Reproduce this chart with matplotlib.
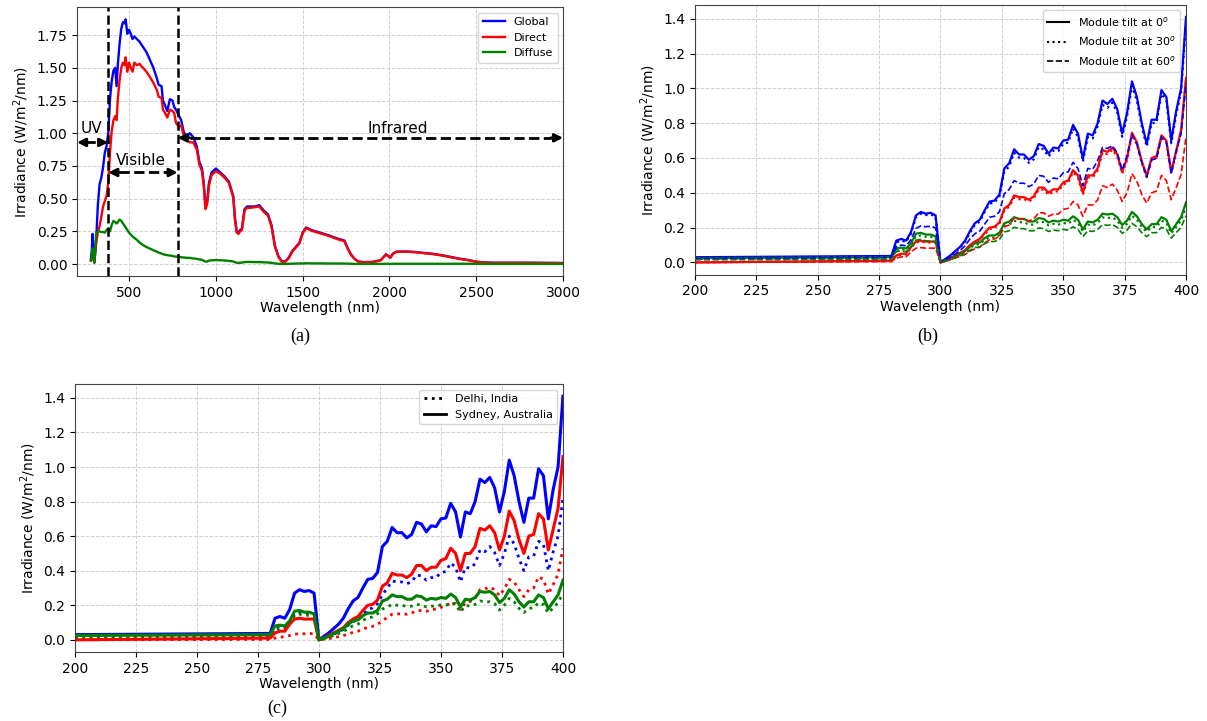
import matplotlib
matplotlib.use("Agg")
import matplotlib.pyplot as plt

# ---- panel (a): full spectrum ----
wl_full = [280, 285, 290, 295, 300, 310, 320, 330, 340, 350,
           360, 370, 380, 390, 400, 410, 420, 428, 435, 445,
           455, 465, 475, 480, 490, 500, 510, 520, 530, 545,
           560, 580, 600, 620, 640, 660, 670, 687, 695, 705,
           720, 735, 750, 760, 770, 785, 800, 815, 830, 850,
           870, 890, 905, 920, 930, 940, 950, 960, 975, 1000,
           1025, 1050, 1075, 1100, 1110, 1120, 1130, 1140, 1150, 1165,
           1180, 1200, 1225, 1250, 1275, 1300, 1320, 1340, 1360, 1380,
           1400, 1420, 1440, 1460, 1480, 1500, 1520, 1550, 1600, 1650,
           1700, 1740, 1760, 1780, 1800, 1820, 1850, 1900, 1950, 1980,
           1990, 2005, 2020, 2040, 2100, 2150, 2200, 2250, 2300, 2350,
           2400, 2450, 2500, 2550, 2600, 2800, 3000, 3500, 4000]
global_full = [0.04, 0.10, 0.23, 0.10, 0.02, 0.17, 0.45, 0.61, 0.66, 0.74,
               0.85, 0.90, 1.00, 1.26, 1.40, 1.48, 1.50, 1.36, 1.52, 1.68,
               1.80, 1.85, 1.84, 1.87, 1.76, 1.79, 1.76, 1.72, 1.74, 1.72,
               1.70, 1.66, 1.62, 1.56, 1.50, 1.42, 1.37, 1.36, 1.25, 1.22,
               1.17, 1.26, 1.25, 1.20, 1.18, 1.14, 1.10, 1.01, 0.97, 1.00,
               0.97, 0.90, 0.78, 0.73, 0.62, 0.44, 0.48, 0.62, 0.70, 0.73,
               0.70, 0.67, 0.63, 0.52, 0.35, 0.25, 0.24, 0.26, 0.27, 0.42,
               0.44, 0.44, 0.44, 0.45, 0.41, 0.38, 0.30, 0.14, 0.06, 0.02,
               0.02, 0.05, 0.10, 0.13, 0.16, 0.24, 0.28, 0.26, 0.24, 0.22,
               0.195, 0.18, 0.12, 0.07, 0.04, 0.02, 0.015, 0.016, 0.03, 0.075,
               0.065, 0.05, 0.08, 0.095, 0.096, 0.092, 0.085, 0.078, 0.068, 0.055,
               0.042, 0.032, 0.018, 0.012, 0.010, 0.010, 0.008, 0.006, 0.005]
direct_full = [0.025, 0.04, 0.06, 0.04, 0.01, 0.16, 0.24, 0.29, 0.36, 0.44,
               0.48, 0.52, 0.62, 0.85, 1.02, 1.10, 1.13, 1.10, 1.26, 1.40,
               1.50, 1.54, 1.52, 1.58, 1.47, 1.54, 1.50, 1.47, 1.54, 1.52,
               1.53, 1.50, 1.47, 1.43, 1.385, 1.33, 1.28, 1.27, 1.18, 1.16,
               1.12, 1.18, 1.17, 1.155, 1.08, 1.05, 1.06, 0.98, 0.95, 0.93,
               0.93, 0.875, 0.76, 0.71, 0.60, 0.42, 0.46, 0.60, 0.68, 0.71,
               0.69, 0.66, 0.62, 0.51, 0.34, 0.24, 0.23, 0.25, 0.26, 0.41,
               0.43, 0.43, 0.435, 0.44, 0.40, 0.37, 0.29, 0.135, 0.055, 0.018,
               0.018, 0.045, 0.095, 0.125, 0.155, 0.235, 0.275, 0.255, 0.235, 0.215,
               0.19, 0.175, 0.115, 0.068, 0.038, 0.018, 0.014, 0.015, 0.028, 0.073,
               0.063, 0.048, 0.078, 0.093, 0.094, 0.09, 0.083, 0.076, 0.066, 0.053,
               0.04, 0.03, 0.017, 0.011, 0.009, 0.009, 0.007, 0.005, 0.004]
diffuse_full = [0.03, 0.05, 0.12, 0.05, 0.01, 0.23, 0.25, 0.25, 0.245, 0.245,
                0.24, 0.26, 0.27, 0.25, 0.30, 0.33, 0.32, 0.31, 0.32, 0.34,
                0.33, 0.31, 0.29, 0.28, 0.26, 0.24, 0.225, 0.21, 0.20, 0.185,
                0.165, 0.145, 0.13, 0.118, 0.105, 0.095, 0.088, 0.08, 0.075, 0.072,
                0.068, 0.065, 0.062, 0.058, 0.057, 0.055, 0.052, 0.05, 0.048, 0.047,
                0.043, 0.04, 0.035, 0.032, 0.025, 0.018, 0.02, 0.026, 0.029, 0.03,
                0.029, 0.027, 0.024, 0.02, 0.014, 0.01, 0.009, 0.01, 0.011, 0.015,
                0.016, 0.016, 0.015, 0.015, 0.013, 0.012, 0.009, 0.005, 0.002, 0.001,
                0.001, 0.002, 0.003, 0.004, 0.004, 0.005, 0.006, 0.005, 0.005, 0.004,
                0.004, 0.004, 0.003, 0.002, 0.001, 0.001, 0.001, 0.001, 0.001, 0.002,
                0.002, 0.001, 0.002, 0.002, 0.002, 0.002, 0.002, 0.002, 0.002, 0.002,
                0.002, 0.002, 0.002, 0.001, 0.001, 0.001, 0.001, 0.001, 0.001]

# ---- panels (b) and (c): UV range ----
wl_uv = [200, 280, 282, 284, 286, 288, 290, 292, 294, 296, 298,
         300, 302, 304, 306, 308, 310, 312, 314, 316, 318,
         320, 322, 324, 326, 328, 330, 332, 334, 336, 338,
         340, 342, 344, 346, 348, 350, 352, 354, 356, 358,
         360, 362, 364, 366, 368, 370, 372, 374, 376, 378,
         380, 382, 384, 386, 388, 390, 392, 394, 396, 398, 400]

# Sydney, module tilt 0
glob_t0 = [0.030, 0.037, 0.125, 0.135, 0.125, 0.175, 0.270, 0.290, 0.280, 0.285, 0.270,
           0.000, 0.020, 0.040, 0.065, 0.090, 0.125, 0.180, 0.225, 0.245, 0.300,
           0.350, 0.355, 0.390, 0.540, 0.570, 0.650, 0.620, 0.620, 0.590, 0.610,
           0.680, 0.670, 0.625, 0.660, 0.655, 0.700, 0.705, 0.790, 0.740, 0.595,
           0.740, 0.730, 0.800, 0.930, 0.910, 0.940, 0.880, 0.740, 0.860, 1.040,
           0.950, 0.800, 0.680, 0.820, 0.820, 0.990, 0.950, 0.700, 0.870, 1.000, 1.410]
dir_t0 = [0.000, 0.010, 0.040, 0.050, 0.050, 0.090, 0.120, 0.125, 0.120, 0.120, 0.120,
          0.000, 0.010, 0.025, 0.040, 0.055, 0.070, 0.100, 0.120, 0.135, 0.170,
          0.200, 0.205, 0.230, 0.310, 0.330, 0.385, 0.375, 0.375, 0.360, 0.380,
          0.430, 0.430, 0.400, 0.420, 0.420, 0.460, 0.470, 0.530, 0.500, 0.400,
          0.500, 0.500, 0.540, 0.645, 0.635, 0.660, 0.620, 0.520, 0.600, 0.745,
          0.690, 0.580, 0.500, 0.600, 0.610, 0.730, 0.700, 0.520, 0.640, 0.760, 1.060]
dif_t0 = [0.025, 0.030, 0.080, 0.085, 0.080, 0.110, 0.165, 0.170, 0.160, 0.160, 0.150,
          0.000, 0.010, 0.020, 0.035, 0.050, 0.065, 0.090, 0.110, 0.115, 0.140,
          0.155, 0.155, 0.170, 0.225, 0.235, 0.260, 0.250, 0.250, 0.235, 0.235,
          0.255, 0.250, 0.230, 0.240, 0.235, 0.245, 0.240, 0.265, 0.245, 0.190,
          0.235, 0.230, 0.245, 0.280, 0.275, 0.280, 0.260, 0.215, 0.240, 0.290,
          0.265, 0.220, 0.190, 0.220, 0.220, 0.260, 0.245, 0.180, 0.220, 0.260, 0.345]

# module tilt 30
glob_t30 = [0.027, 0.034, 0.115, 0.125, 0.118, 0.165, 0.260, 0.280, 0.272, 0.276, 0.262,
            0.000, 0.018, 0.037, 0.060, 0.085, 0.118, 0.170, 0.215, 0.235, 0.290,
            0.338, 0.345, 0.378, 0.520, 0.552, 0.630, 0.602, 0.600, 0.572, 0.592,
            0.662, 0.650, 0.608, 0.642, 0.640, 0.682, 0.688, 0.770, 0.722, 0.578,
            0.720, 0.712, 0.782, 0.905, 0.888, 0.918, 0.860, 0.722, 0.840, 1.015,
            0.930, 0.780, 0.665, 0.800, 0.802, 0.968, 0.930, 0.685, 0.850, 0.978, 1.380]
dir_t30 = [0.000, 0.008, 0.036, 0.046, 0.046, 0.085, 0.115, 0.120, 0.115, 0.115, 0.115,
           0.000, 0.009, 0.023, 0.037, 0.052, 0.066, 0.095, 0.114, 0.128, 0.162,
           0.192, 0.197, 0.222, 0.300, 0.320, 0.373, 0.363, 0.364, 0.350, 0.368,
           0.418, 0.418, 0.388, 0.408, 0.408, 0.448, 0.458, 0.518, 0.488, 0.390,
           0.488, 0.488, 0.528, 0.632, 0.622, 0.648, 0.608, 0.510, 0.588, 0.732,
           0.678, 0.570, 0.490, 0.590, 0.600, 0.718, 0.688, 0.512, 0.630, 0.748, 1.045]
dif_t30 = [0.020, 0.025, 0.072, 0.077, 0.073, 0.100, 0.150, 0.155, 0.147, 0.147, 0.138,
           0.000, 0.009, 0.018, 0.032, 0.046, 0.060, 0.083, 0.101, 0.106, 0.129,
           0.143, 0.143, 0.157, 0.208, 0.217, 0.240, 0.231, 0.231, 0.217, 0.217,
           0.236, 0.231, 0.213, 0.222, 0.217, 0.227, 0.222, 0.245, 0.227, 0.176,
           0.217, 0.213, 0.227, 0.259, 0.254, 0.259, 0.240, 0.199, 0.222, 0.268,
           0.245, 0.204, 0.176, 0.204, 0.204, 0.240, 0.227, 0.167, 0.204, 0.240, 0.319]

# module tilt 60
glob_t60 = [0.022, 0.027, 0.090, 0.100, 0.095, 0.130, 0.195, 0.210, 0.205, 0.208, 0.198,
            0.000, 0.015, 0.030, 0.048, 0.068, 0.095, 0.135, 0.165, 0.180, 0.220,
            0.260, 0.265, 0.290, 0.395, 0.420, 0.470, 0.455, 0.455, 0.435, 0.450,
            0.500, 0.495, 0.460, 0.485, 0.480, 0.515, 0.520, 0.575, 0.540, 0.440,
            0.540, 0.535, 0.585, 0.660, 0.655, 0.670, 0.630, 0.530, 0.615, 0.735,
            0.680, 0.575, 0.490, 0.590, 0.595, 0.720, 0.690, 0.510, 0.640, 0.740, 1.030]
dir_t60 = [0.000, 0.005, 0.025, 0.032, 0.032, 0.060, 0.082, 0.085, 0.082, 0.082, 0.082,
           0.000, 0.006, 0.015, 0.025, 0.035, 0.045, 0.065, 0.078, 0.088, 0.112,
           0.130, 0.135, 0.150, 0.205, 0.215, 0.255, 0.248, 0.248, 0.238, 0.250,
           0.285, 0.285, 0.265, 0.278, 0.278, 0.305, 0.310, 0.350, 0.330, 0.265,
           0.330, 0.330, 0.358, 0.440, 0.430, 0.450, 0.415, 0.350, 0.400, 0.510,
           0.465, 0.390, 0.340, 0.400, 0.410, 0.500, 0.470, 0.360, 0.430, 0.505, 0.720]
dif_t60 = [0.015, 0.018, 0.062, 0.066, 0.062, 0.085, 0.128, 0.132, 0.124, 0.124, 0.116,
           0.000, 0.008, 0.016, 0.027, 0.039, 0.050, 0.070, 0.085, 0.089, 0.108,
           0.120, 0.120, 0.132, 0.175, 0.182, 0.202, 0.194, 0.194, 0.182, 0.182,
           0.198, 0.194, 0.178, 0.186, 0.182, 0.190, 0.186, 0.205, 0.190, 0.148,
           0.182, 0.178, 0.190, 0.217, 0.213, 0.217, 0.202, 0.167, 0.186, 0.225,
           0.205, 0.171, 0.148, 0.171, 0.171, 0.202, 0.190, 0.140, 0.171, 0.202, 0.268]

# Delhi, India
glob_delhi = [0.020, 0.024, 0.070, 0.078, 0.072, 0.100, 0.150, 0.160, 0.155, 0.158, 0.150,
              0.000, 0.010, 0.020, 0.032, 0.045, 0.060, 0.085, 0.105, 0.118, 0.145,
              0.175, 0.185, 0.210, 0.260, 0.300, 0.340, 0.335, 0.335, 0.325, 0.335,
              0.375, 0.370, 0.345, 0.360, 0.360, 0.390, 0.395, 0.445, 0.420, 0.335,
              0.420, 0.415, 0.440, 0.520, 0.510, 0.540, 0.505, 0.430, 0.500, 0.600,
              0.555, 0.470, 0.400, 0.480, 0.485, 0.570, 0.555, 0.400, 0.510, 0.600, 0.820]
dir_delhi = [0.000, 0.002, 0.010, 0.015, 0.018, 0.025, 0.033, 0.035, 0.035, 0.037, 0.035,
             0.000, 0.003, 0.007, 0.012, 0.018, 0.024, 0.034, 0.043, 0.050, 0.062,
             0.072, 0.078, 0.090, 0.110, 0.130, 0.148, 0.150, 0.150, 0.148, 0.155,
             0.168, 0.170, 0.165, 0.175, 0.178, 0.188, 0.195, 0.215, 0.210, 0.175,
             0.215, 0.222, 0.240, 0.290, 0.295, 0.305, 0.290, 0.255, 0.295, 0.350,
             0.335, 0.290, 0.250, 0.290, 0.300, 0.365, 0.350, 0.265, 0.320, 0.380, 0.530]
dif_delhi = [0.012, 0.015, 0.060, 0.066, 0.062, 0.090, 0.140, 0.148, 0.142, 0.142, 0.135,
             0.000, 0.007, 0.015, 0.025, 0.036, 0.047, 0.066, 0.082, 0.090, 0.112,
             0.128, 0.132, 0.150, 0.178, 0.190, 0.205, 0.200, 0.200, 0.192, 0.195,
             0.205, 0.202, 0.190, 0.195, 0.195, 0.202, 0.200, 0.215, 0.205, 0.160,
             0.198, 0.196, 0.205, 0.225, 0.220, 0.220, 0.210, 0.172, 0.200, 0.240,
             0.220, 0.182, 0.158, 0.182, 0.185, 0.215, 0.205, 0.155, 0.185, 0.215, 0.270]

ylab = "Irradiance (W/m$^2$/nm)"
xlab = "Wavelength (nm)"


def style(ax):
    ax.grid(True, ls="--", color="#d0d0d0", lw=0.7)
    ax.set_axisbelow(True)
    for s in ax.spines.values():
        s.set_color("#444444")
    ax.tick_params(labelsize=10)
    ax.set_xlabel(xlab, fontsize=10, labelpad=1)
    ax.set_ylabel(ylab, fontsize=10)


def range_arrow(ax, x0, x1, y, d):
    ax.plot([x0 + d, x1 - d], [y, y], color="k", ls="--", lw=2)
    for xa, xb in [(x0, x0 + d), (x1, x1 - d)]:
        ax.annotate("", xy=(xa, y), xytext=(xb, y),
                    arrowprops=dict(arrowstyle="-|>", color="k", lw=2,
                                    mutation_scale=12, shrinkA=0, shrinkB=0))


fig = plt.figure(figsize=(12.07, 7.21), dpi=100)

# (a)
ax1 = fig.add_axes([0.0638, 0.617, 0.4027, 0.373])
ax1.plot(wl_full, global_full, color="blue", lw=1.7, label="Global")
ax1.plot(wl_full, direct_full, color="red", lw=1.7, label="Direct")
ax1.plot(wl_full, diffuse_full, color="green", lw=1.7, label="Diffuse")
ax1.set_xlim(200, 3000)
ax1.axvline(380, color="k", ls="--", lw=1.8)
ax1.axvline(780, color="k", ls="--", lw=1.8)
range_arrow(ax1, 200, 380, 0.93, 45)
range_arrow(ax1, 380, 780, 0.70, 60)
range_arrow(ax1, 780, 3000, 0.965, 70)
ax1.text(285, 1.04, "UV", ha="center", va="center", fontsize=11)
ax1.text(570, 0.79, "Visible", ha="center", va="center", fontsize=11)
ax1.text(2050, 1.04, "Infrared", ha="center", va="center", fontsize=11)
ax1.legend(loc="upper right", fontsize=8)
style(ax1)

# (b)
ax2 = fig.add_axes([0.5758, 0.619, 0.4068, 0.3745])
ax2.plot(wl_uv, glob_t0, color="blue", lw=1.6)
ax2.plot(wl_uv, dir_t0, color="red", lw=1.6)
ax2.plot(wl_uv, dif_t0, color="green", lw=1.6)
ax2.plot(wl_uv, glob_t30, color="blue", lw=1.6, ls=":")
ax2.plot(wl_uv, dir_t30, color="red", lw=1.6, ls=":")
ax2.plot(wl_uv, dif_t30, color="green", lw=1.6, ls=":")
ax2.plot(wl_uv, glob_t60, color="blue", lw=1.2, ls="--")
ax2.plot(wl_uv, dir_t60, color="red", lw=1.2, ls="--")
ax2.plot(wl_uv, dif_t60, color="green", lw=1.2, ls="--")
h0, = ax2.plot([], [], color="k", lw=1.5, ls="-", label="Module tilt at 0$^o$")
h30, = ax2.plot([], [], color="k", lw=1.5, ls=":", label="Module tilt at 30$^o$")
h60, = ax2.plot([], [], color="k", lw=1.2, ls="--", label="Module tilt at 60$^o$")
ax2.set_xlim(200, 400)
ax2.legend(handles=[h0, h30, h60], loc="upper right", fontsize=8)
style(ax2)

# (c)
ax3 = fig.add_axes([0.0621, 0.0957, 0.4043, 0.3717])
ax3.plot(wl_uv, glob_delhi, color="blue", lw=2, ls=":")
ax3.plot(wl_uv, dir_delhi, color="red", lw=2, ls=":")
ax3.plot(wl_uv, dif_delhi, color="green", lw=2, ls=":")
ax3.plot(wl_uv, glob_t0, color="blue", lw=2.2)
ax3.plot(wl_uv, dir_t0, color="red", lw=2.2)
ax3.plot(wl_uv, dif_t0, color="green", lw=2.2)
hd, = ax3.plot([], [], color="k", lw=2, ls=":", label="Delhi, India")
hs, = ax3.plot([], [], color="k", lw=2, ls="-", label="Sydney, Australia")
ax3.set_xlim(200, 400)
ax3.legend(handles=[hd, hs], loc="upper right", fontsize=8)
style(ax3)

serif = ["Liberation Serif", "DejaVu Serif"]
fig.text(0.2485, 0.534, "(a)", ha="center", va="center", fontsize=13, family=serif)
fig.text(0.769, 0.534, "(b)", ha="center", va="center", fontsize=13, family=serif)
fig.text(0.2295, 0.018, "(c)", ha="center", va="center", fontsize=13, family=serif)

fig.savefig("out.png", dpi=100)
